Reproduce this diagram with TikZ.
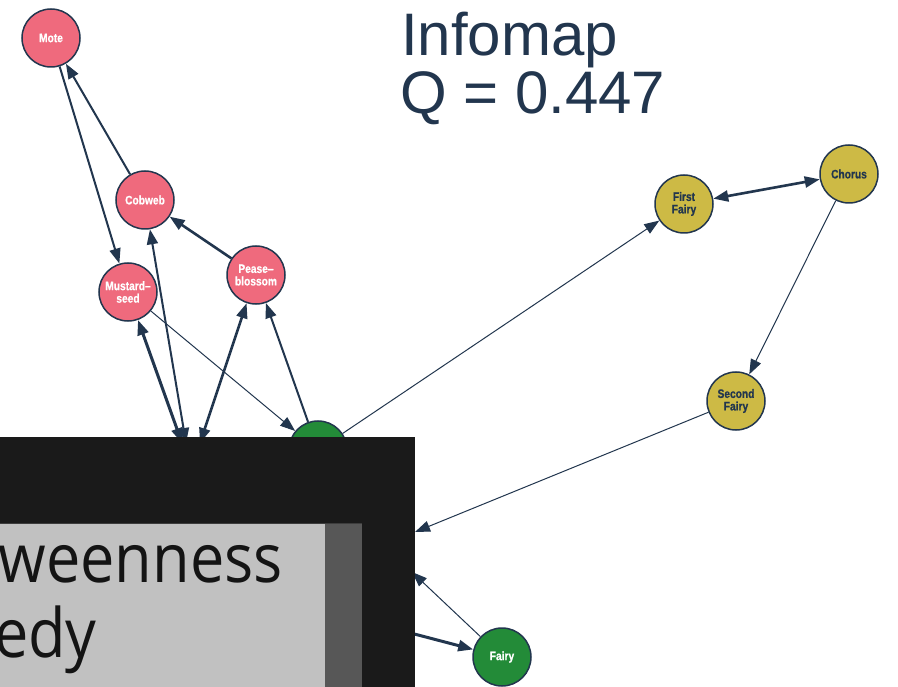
\documentclass[tikz,border=0pt]{standalone}
\usepackage{fontspec}
\setmainfont{Liberation Sans}
\newfontfamily\nodefont[FakeStretch=0.83,FakeBold=0.6]{Liberation Sans}
\newfontfamily\boxfont{Open Sans}
\usetikzlibrary{arrows.meta}
\definecolor{navy}{HTML}{22364E}
\definecolor{pinkc}{HTML}{EF6A7D}
\definecolor{olivec}{HTML}{CDBA45}
\definecolor{greenc}{HTML}{238B38}
\definecolor{boxblack}{HTML}{1A1A1A}
\definecolor{boxlight}{HTML}{C1C1C1}
\definecolor{boxdark}{HTML}{575757}
\begin{document}
\begin{tikzpicture}[x=1pt,y=-1pt,
  >={Triangle[length=15pt,width=11pt]},
  vert/.style={circle, draw=navy, line width=1.5pt, minimum size=58pt, inner sep=0pt, align=center,
    font=\nodefont\bfseries\fontsize{12.3}{12.5}\selectfont},
  pinkv/.style={vert, fill=pinkc, text=white},
  olivev/.style={vert, fill=olivec, text=navy},
  greenv/.style={vert, fill=greenc, text=white},
  ew1/.style={draw=navy, line width=1pt},
  ew2/.style={draw=navy, line width=2pt},
  ew3/.style={draw=navy, line width=2.6pt},
  ew4/.style={draw=navy, line width=3pt},
  title/.style={text=navy, font=\fontsize{60}{60}\selectfont, inner sep=0pt, anchor=base west}
]
\useasboundingbox (0,0) rectangle (898,687);
\fill[white] (0,0) rectangle (898,687);

% title
\node[title] (t1) at (401,56) {Infomap};
\node[title] (t2) at (400,114) {Q = 0.447};

% nodes
\node[pinkv] (mote) at (51,38) {Mote};
\node[pinkv] (cobweb) at (145,200) {Cobweb};
\node[pinkv] (mustard) at (128,292) {Mustard–\\seed};
\node[pinkv] (pease) at (256,275) {Pease–\\blossom};
\node[greenv] (g) at (318,450) {};
\node[olivev] (first) at (684,204) {First\\Fairy};
\node[olivev] (chorus) at (849,174) {Chorus};
\node[olivev] (second) at (736,401) {Second\\Fairy};
\node[greenv] (fairy) at (502,657) {Fairy};

% hidden ends (under the overlay)
\coordinate (a1) at (182,443);
\coordinate (a2) at (186,443);
\coordinate (b1) at (200,443);
\coordinate (t12) at (415,532);
\coordinate (t13) at (412,572);
\coordinate (h14) at (380,625);

% edges
\draw[ew2,->] (mote) -- (mustard);
\draw[ew2,->] (cobweb) -- (mote);
\draw[ew3,->] (pease) -- (cobweb);
\draw[ew1,->] (mustard) -- (g);
\draw[ew4,<->] (mustard) -- (a1);
\draw[ew2,<->] (cobweb) -- (a2);
\draw[ew3,<->] (pease) -- (b1);
\draw[ew2,->] (g) -- (pease);
\draw[ew1,->] (g) -- (first);
\draw[ew3,<->] (first) -- (chorus);
\draw[ew1,->] (chorus) -- (second);
\draw[ew1,->] (second) -- (t12);
\draw[ew1,->] (fairy) -- (t13);
\draw[ew4,->] (h14) -- (fairy);

% overlay
\begin{scope}
\clip (0,0) rectangle (898,687);
\fill[boxblack] (0,437) rectangle (415,687);
\fill[boxlight] (0,523) rectangle (325,687);
\fill[boxdark] (325,523) rectangle (362,687);
\draw[boxdark!70!black, line width=0.8pt] (0,523) -- (362,523);
\node[anchor=base east, inner sep=0pt, text=black!92, font=\boxfont\fontsize{68}{68}\selectfont] (w1) at (283,582) {\scalebox{0.9}[1]{weenness}};
\node[anchor=base east, inner sep=0pt, text=black!92, font=\boxfont\fontsize{68}{68}\selectfont] (w2) at (97,657) {\scalebox{0.9}[1]{edy}};
\end{scope}
\end{tikzpicture}
\end{document}
